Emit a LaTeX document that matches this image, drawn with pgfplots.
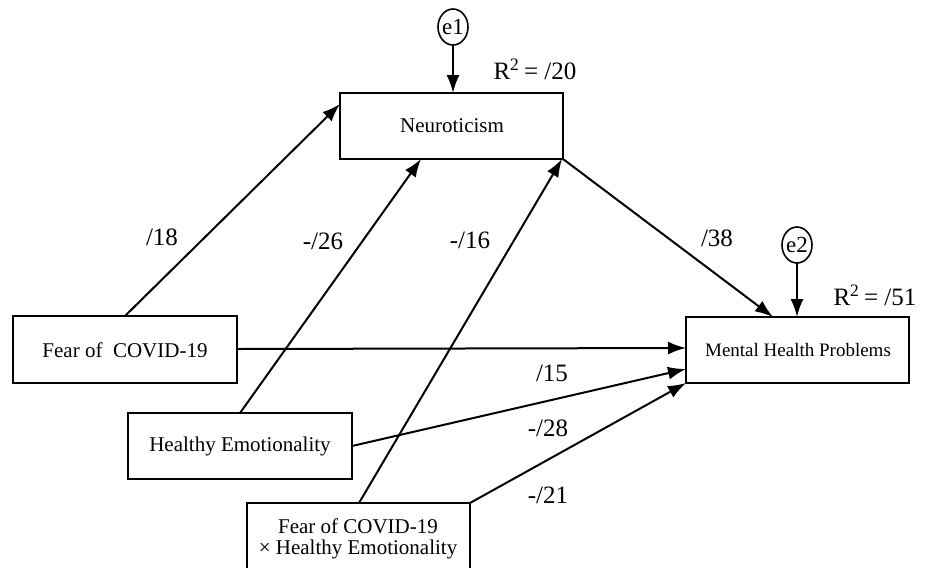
\documentclass[border=0pt]{standalone}
\usepackage{pgfplots}
\pgfplotsset{compat=1.18}
\usepackage{fontspec}
\setmainfont{Liberation Serif}
\usetikzlibrary{arrows.meta,shapes.geometric}
\begin{document}
\begin{tikzpicture}
\begin{axis}[
  width=466.5pt, height=284pt, scale only axis,
  xmin=0, xmax=933, ymin=0, ymax=568, y dir=reverse,
  axis lines=none, clip=false,
]
% invisible frame for bounding box
\addplot[draw=none] coordinates {(0,0) (933,568)};
% boxes
\addplot[black, line width=1pt] coordinates {(340,93) (563,93) (563,159) (340,159)} --cycle;
\addplot[black, line width=1pt] coordinates {(13,316) (237,316) (237,383) (13,383)} --cycle;
\addplot[black, line width=1pt] coordinates {(686,317) (909,317) (909,383) (686,383)} --cycle;
\addplot[black, line width=1pt] coordinates {(128,413) (352,413) (352,479) (128,479)} --cycle;
\addplot[black, line width=1pt] coordinates {(247,568) (247,503) (470,503) (470,568)};
% arrows
\pgfplotsset{arr/.style={black, line width=1pt, -{Latex[length=9pt,width=6.5pt]}}}
\addplot[arr] coordinates {(453,45) (453,93)};
\addplot[arr] coordinates {(797,263) (797,317)};
\addplot[arr] coordinates {(125,316) (340,104)};
\addplot[arr] coordinates {(240,413) (421,159)};
\addplot[arr] coordinates {(359,503) (562,159)};
\addplot[arr] coordinates {(563,159) (773,317)};
\addplot[arr] coordinates {(237,349) (686,348)};
\addplot[arr] coordinates {(352,446) (686,369)};
\addplot[arr] coordinates {(470,503) (686,383)};
% error circles
\node[draw, ellipse, line width=0.8pt, minimum width=15pt, minimum height=18pt, inner sep=-0.5pt, font=\fontsize{11.5}{12}\selectfont] at (axis cs:453,27) {e1};
\node[draw, ellipse, line width=0.8pt, minimum width=15pt, minimum height=18pt, inner sep=-0.5pt, font=\fontsize{11.5}{12}\selectfont] at (axis cs:797,245) {e2};
% box texts
\node[font=\fontsize{10.5}{12}\selectfont] at (axis cs:452,126) {Neuroticism};
\node[font=\fontsize{10.5}{12}\selectfont] at (axis cs:125,350) {Fear of\ \ COVID-19};
\node[font=\fontsize{9.5}{11}\selectfont] at (axis cs:798,350) {Mental Health Problems};
\node[font=\fontsize{10.5}{12}\selectfont] at (axis cs:240,446) {Healthy Emotionality};
\node[font=\fontsize{10.5}{12}\selectfont] at (axis cs:358,526) {Fear of COVID-19};
\node[font=\fontsize{10.5}{12}\selectfont] at (axis cs:358,549) {× Healthy Emotionality};
% coefficients
\node[font=\fontsize{12.5}{14}\selectfont] at (axis cs:162,237) {/18};
\node[font=\fontsize{12.5}{14}\selectfont] at (axis cs:323,241) {-/26};
\node[font=\fontsize{12.5}{14}\selectfont] at (axis cs:470,240) {-/16};
\node[font=\fontsize{12.5}{14}\selectfont] at (axis cs:717,238) {/38};
\node[font=\fontsize{12.5}{14}\selectfont] at (axis cs:552,373) {/15};
\node[font=\fontsize{12.5}{14}\selectfont] at (axis cs:548,428) {-/28};
\node[font=\fontsize{12.5}{14}\selectfont] at (axis cs:548,495) {-/21};
\node[font=\fontsize{12.5}{14}\selectfont] at (axis cs:535,69) {R\textsuperscript{2}\,= /20};
\node[font=\fontsize{12.5}{14}\selectfont] at (axis cs:875,295) {R\textsuperscript{2}\,= /51};
\end{axis}
\end{tikzpicture}
\end{document}
